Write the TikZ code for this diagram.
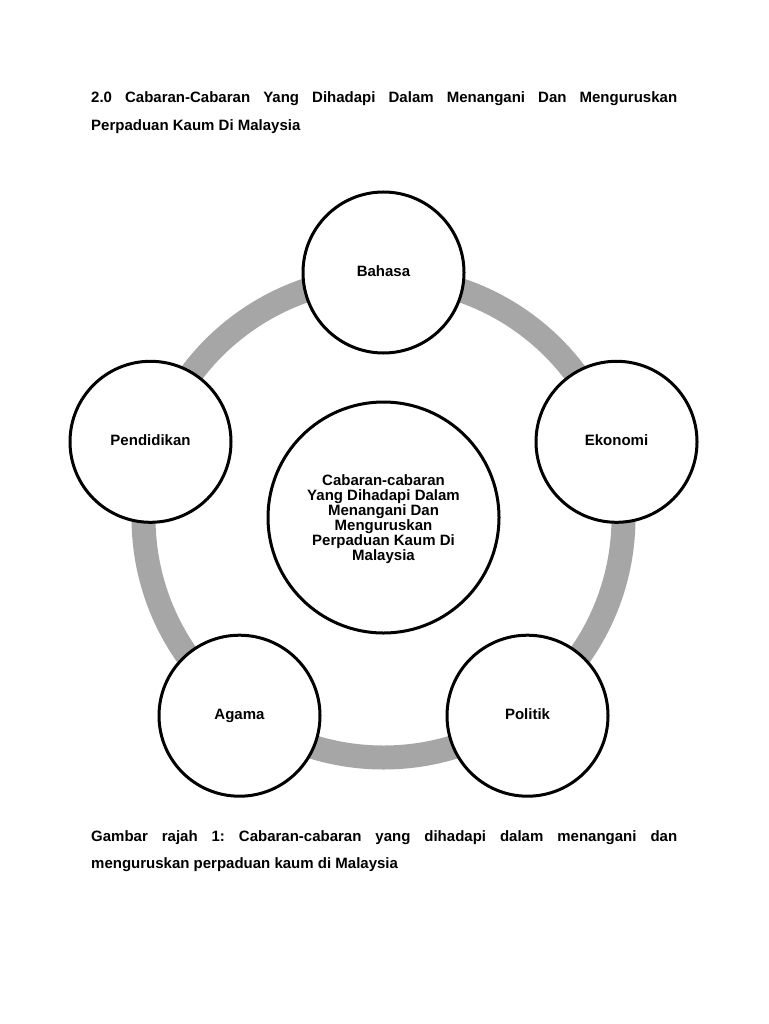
\documentclass[tikz,border=0pt]{standalone}
\usepackage{fontspec}
\setmainfont{Liberation Sans}
\frenchspacing
\definecolor{ringgray}{RGB}{166,166,166}
\tikzset{
  txt/.style={font=\fontsize{15}{15}\selectfont\bfseries\frenchspacing, inner sep=0pt},
  linebox/.style={txt, anchor=base west},
  topic/.style={circle, draw=black, line width=3pt, fill=white, minimum size=161pt, inner sep=0pt, txt, text height=11pt, text depth=3pt},
  hub/.style={circle, draw=black, line width=3pt, fill=white, minimum size=231pt, inner sep=0pt},
  ring/.style={draw=ringgray, line width=24pt}
}
\begin{document}
\begin{tikzpicture}[x=1pt,y=-1pt]
\fill[white] (0,0) rectangle (768,1024);
\useasboundingbox (0,0) rectangle (768,1024);

% title
\node[linebox] (t1) at (91,103) {\makebox[586pt][s]{2.0 Cabaran-Cabaran Yang Dihadapi Dalam Menangani Dan Menguruskan}};
\node[linebox] (t2) at (91,131) {Perpaduan Kaum Di Malaysia};

% ring
\coordinate (c) at (383.5,517.5);
\draw[ring] (c) circle[radius=240];

% circles
\node[hub] (hub) at (c) {};
\node[txt, align=center] (hubtext) at (383.5,519) {Cabaran-cabaran\\Yang Dihadapi Dalam\\Menangani Dan\\Menguruskan\\Perpaduan Kaum Di\\Malaysia};
\node[topic] (bahasa) at (383.5,272.5) {Bahasa};
\node[topic] (ekonomi) at (616.5,441.8) {Ekonomi};
\node[topic] (pendidikan) at (150.5,441.8) {Pendidikan};
\node[topic] (agama) at (239.5,715.7) {Agama};
\node[topic] (politik) at (527.5,715.7) {Politik};

% caption
\node[linebox] (g1) at (91,841) {\makebox[586pt][s]{Gambar rajah 1: Cabaran-cabaran yang dihadapi dalam menangani dan}};
\node[linebox] (g2) at (91,868) {menguruskan perpaduan kaum di Malaysia};
\end{tikzpicture}
\end{document}
